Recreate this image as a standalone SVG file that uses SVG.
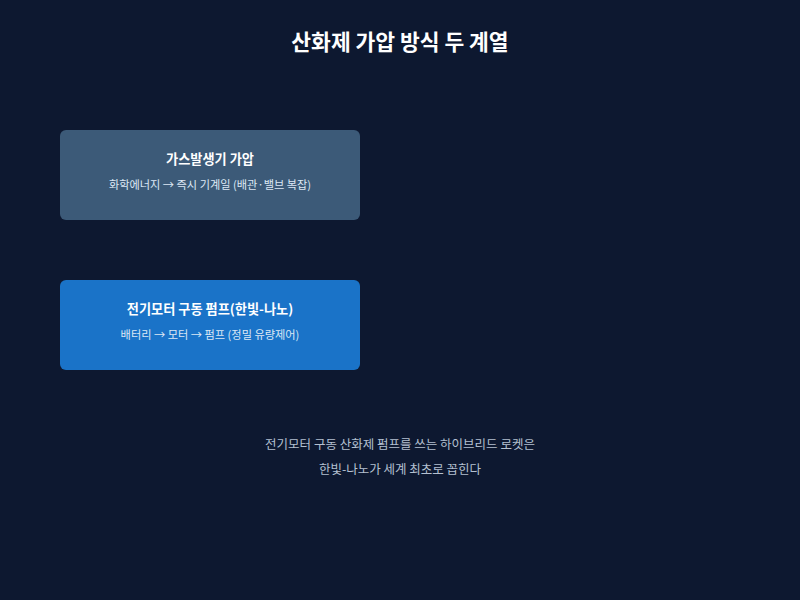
<svg xmlns="http://www.w3.org/2000/svg" width="800" height="600" viewBox="0 0 800 600">
<style>
text{font-family:"Noto Sans CJK KR","Noto Sans",sans-serif;text-anchor:middle}
.title{font-size:21.5px;font-weight:700;fill:#ffffff}
.nt{font-size:13.2px;font-weight:700;fill:#ffffff}
.ns{font-size:11.2px;fill:#dce8f5}
.foot{font-size:12.5px;fill:#b4c0d0}
</style>
<rect width="800" height="600" fill="#0d1830"/>
<text class="title" x="400" y="50">산화제 가압 방식 두 계열</text>
<g id="connectors"></g>
<g id="gas">
<rect x="60" y="130" width="300" height="90" rx="6" fill="#3c5a78"/>
<text class="nt" x="210" y="164">가스발생기 가압</text>
<text class="ns" x="210" y="189">화학에너지 → 즉시 기계일 (배관·밸브 복잡)</text>
</g>
<g id="motor">
<rect x="60" y="280" width="300" height="90" rx="6" fill="#1a73c8"/>
<text class="nt" x="210" y="314">전기모터 구동 펌프(한빛-나노)</text>
<text class="ns" x="210" y="339">배터리 → 모터 → 펌프 (정밀 유량제어)</text>
</g>
<g id="note">
<text class="foot" x="400" y="449">전기모터 구동 산화제 펌프를 쓰는 하이브리드 로켓은</text>
<text class="foot" x="400" y="474">한빛-나노가 세계 최초로 꼽힌다</text>
</g>
</svg>
